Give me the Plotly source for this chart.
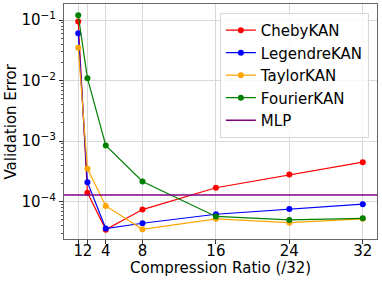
import plotly.graph_objects as go

ratios = [1, 2, 4, 8, 16, 24, 32]
cheby = [0.095, 1.41e-4, 3.45e-5, 7.4e-5, 1.7e-4, 2.8e-4, 4.5e-4]
legendre = [0.061, 2.1e-4, 3.6e-5, 4.4e-5, 6.2e-5, 7.6e-5, 9.1e-5]
taylor = [0.035, 3.5e-4, 8.5e-5, 3.5e-5, 5.2e-5, 4.5e-5, 5.2e-5]
fourier = [0.121, 0.011, 8.5e-4, 2.15e-4, 5.7e-5, 5.0e-5, 5.3e-5]
mlp = 1.29e-4

x_ticks = [1, 2, 4, 8, 16, 24, 32]
y_ticks = [1e-4, 1e-3, 1e-2, 1e-1]
y_ticktext = ["10<sup>−4</sup>", "10<sup>−3</sup>", "10<sup>−2</sup>", "10<sup>−1</sup>"]
y_minor = [k * 10.0 ** e for e in (-5, -4, -3, -2, -1) for k in range(2, 10)]

font = "DejaVu Sans"
fig = go.Figure()
series = [("ChebyKAN", cheby, "red"), ("LegendreKAN", legendre, "blue"),
          ("TaylorKAN", taylor, "orange"), ("FourierKAN", fourier, "green")]
for name, vals, col in series:
    fig.add_trace(go.Scatter(x=ratios, y=vals, name=name, mode="lines+markers",
                             line=dict(color=col, width=1.2),
                             marker=dict(color=col, size=6)))
xmin, xmax = -0.55, 33.55
fig.add_trace(go.Scatter(x=[xmin, xmax], y=[mlp, mlp], name="MLP", mode="lines",
                         line=dict(color="purple", width=1.5)))

fig.update_layout(
    width=382, height=281,
    margin=dict(l=64, r=5, t=4, b=42, autoexpand=False),
    paper_bgcolor="white", plot_bgcolor="white",
    font=dict(family=font, size=15, color="black"),
    showlegend=True,
    legend=dict(x=0.974, y=0.962, xanchor="right", yanchor="top",
                bgcolor="rgba(255,255,255,0.8)", bordercolor="#d8d8d8", borderwidth=1,
                font=dict(size=15), tracegroupgap=0, itemwidth=30),
    annotations=[
        dict(text="Compression Ratio (/32)", xref="paper", yref="paper", x=0.5, y=0,
             yshift=-29, showarrow=False, xanchor="center", yanchor="middle",
             font=dict(size=15)),
        dict(text="Validation Error", xref="paper", yref="paper", x=0, y=0.5,
             xshift=-54, showarrow=False, xanchor="center", yanchor="middle",
             textangle=-90, font=dict(size=15)),
    ],
)
fig.update_xaxes(range=[xmin, xmax], tickvals=x_ticks, ticktext=[str(t) for t in x_ticks],
                 tickangle=0, automargin=False, ticklabelstandoff=-6,
                 showgrid=True, gridcolor="#d9d9d9", gridwidth=1,
                 showline=True, linecolor="#666666", mirror=True,
                 ticks="outside", ticklen=4, tickcolor="#333", zeroline=False)
fig.update_yaxes(type="log", range=[-4.617, -0.733], tickvals=y_ticks, ticktext=y_ticktext,
                 automargin=False,
                 showgrid=True, gridcolor="#d9d9d9", gridwidth=1,
                 showline=True, linecolor="#666666", mirror=True,
                 ticks="outside", ticklen=4, tickcolor="#333",
                 minor=dict(tickvals=y_minor, ticks="outside", ticklen=2,
                            tickcolor="#555", showgrid=False),
                 zeroline=False)
fig.write_html("out.html", config={"displayModeBar": False},
               post_script="document.body.style.margin='0';document.body.style.overflow='hidden';")
